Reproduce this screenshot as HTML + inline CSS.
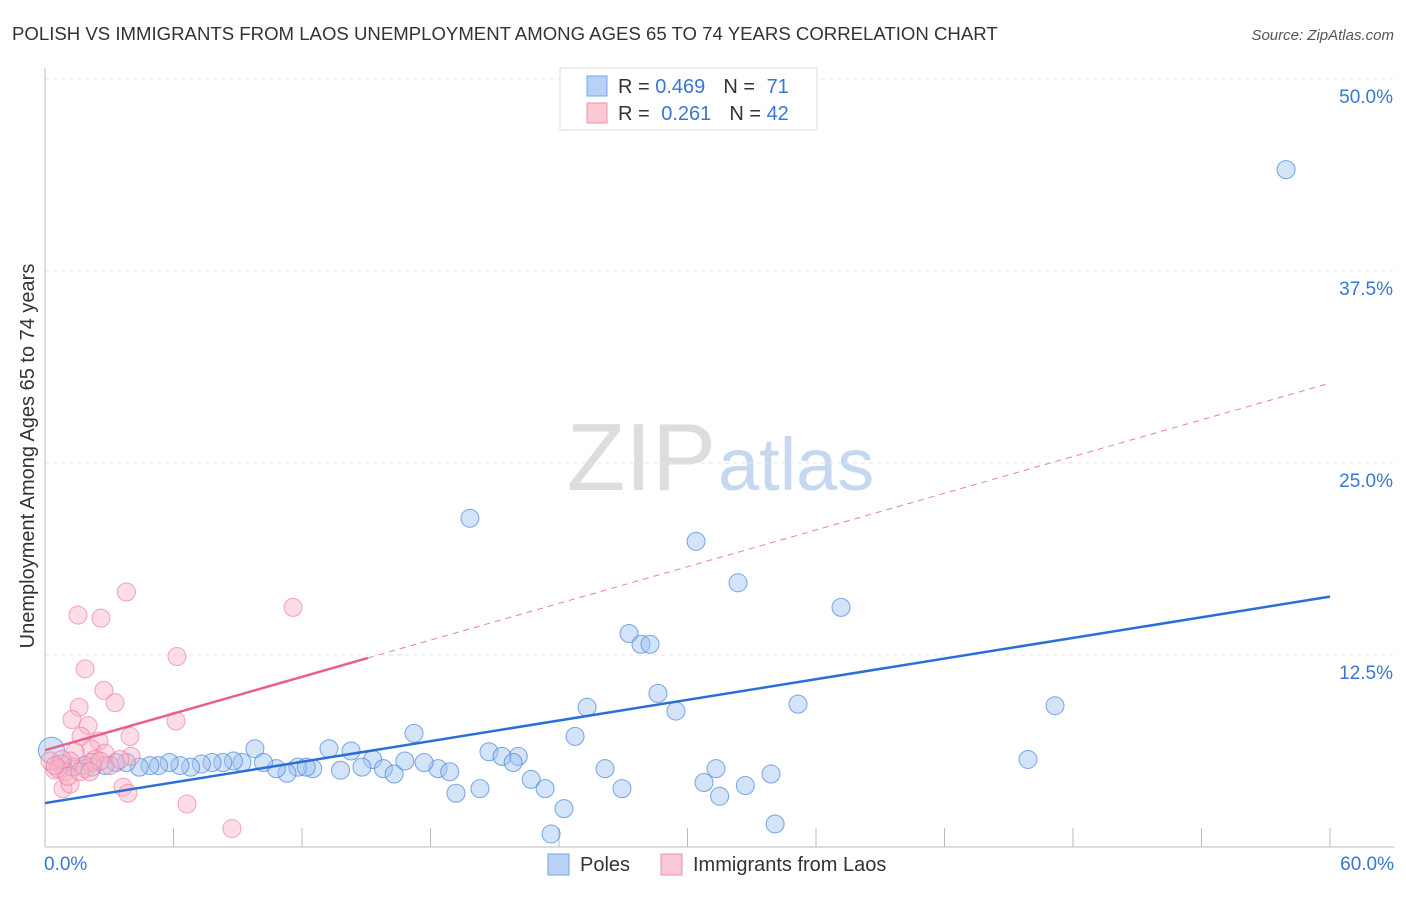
<!DOCTYPE html>
<html><head><meta charset="utf-8"><style>
body{margin:0;background:#fff;font-family:"Liberation Sans",sans-serif;}
svg text{font-family:"Liberation Sans",sans-serif;}
</style></head><body>
<svg id="c" width="1406" height="892">
<text x="12" y="40" font-size="18.6" fill="#333">POLISH VS IMMIGRANTS FROM LAOS UNEMPLOYMENT AMONG AGES 65 TO 74 YEARS CORRELATION CHART</text>
<text x="1394" y="40" font-size="15" fill="#555" font-style="italic" text-anchor="end">Source: ZipAtlas.com</text>
<text x="34" y="456" font-size="20" fill="#333" text-anchor="middle" transform="rotate(-90 34 456)">Unemployment Among Ages 65 to 74 years</text>
<text x="716" y="490" font-size="96" fill="#ddd" text-anchor="end" font-family="Liberation Serif">ZIP</text>
<text x="718" y="490" font-size="74" fill="#c5d8f0">atlas</text>
<g id="grid"></g><g id="marks"></g>
<g>
<rect x="560" y="68" width="257" height="62" fill="#fff" stroke="#ddd"/>
<rect x="587" y="76" width="20" height="20" fill="#b8d1f5" stroke="#7aa6e6"/>
<rect x="587" y="103" width="20" height="20" fill="#fbc8d6" stroke="#f08fab"/>
<text x="618" y="93" font-size="20" fill="#333">R = <tspan fill="#3a76d0">0.469</tspan><tspan dx="18">N = </tspan><tspan fill="#3a76d0" dx="6">71</tspan></text>
<text x="618" y="120" font-size="20" fill="#333">R = <tspan fill="#3a76d0" dx="6">0.261</tspan><tspan dx="18">N = </tspan><tspan fill="#3a76d0">42</tspan></text>
</g>
<rect x="548" y="854" width="21" height="21" fill="#b8d1f5" stroke="#7aa6e6"/>
<text x="580" y="871" font-size="20" fill="#333">Poles</text>
<rect x="661" y="854" width="21" height="21" fill="#fbc8d6" stroke="#f08fab"/>
<text x="693" y="871" font-size="20" fill="#333">Immigrants from Laos</text>
</svg>
<script>
const yTicks=[12.5,25.0,37.5,50.0];
const xTickLabels=["0.0%","60.0%"];
const polesX=[57.95,19.84,30.4,32.36,37.17,27.27,27.83,28.25,28.62,29.46,25.31,35.16,47.16,24.75,17.23,20.73,22.1,21.34,21.86,13.26,14.29,9.8,45.9,26.15,31.33,33.9,18.35,18.9,22.7,30.77,32.7,23.35,20.31,19.19,26.94,31.5,24.23,23.63,34.09,15.3,15.8,16.3,14.8,13.8,12.5,11.8,11.3,10.8,10.2,9.2,8.8,8.3,7.8,7.3,6.8,6.3,5.8,5.3,4.9,4.4,3.8,3.3,2.8,2.2,1.8,1.3,0.8,0.3,16.8,17.7,12.2];
const polesY=[44.1,21.4,19.9,17.2,15.6,13.9,13.2,13.2,10.0,8.85,9.1,9.3,9.2,7.2,7.4,6.2,5.9,5.9,5.5,6.4,6.25,6.4,5.7,5.1,5.1,4.75,5.1,4.9,4.4,4.2,4.0,3.8,3.8,3.5,3.8,3.3,2.5,0.85,1.5,5.7,5.1,4.75,5.2,5.0,5.1,5.2,4.8,5.1,5.5,5.5,5.6,5.5,5.5,5.4,5.2,5.3,5.5,5.3,5.3,5.2,5.5,5.5,5.3,5.2,5.3,5.2,5.4,6.3,5.6,5.5,5.2];
const laosX=[3.8,1.54,2.61,11.58,6.16,1.87,1.59,2.75,3.27,1.26,2.01,6.12,1.68,2.52,3.97,2.15,1.4,2.8,4.02,2.33,1.17,0.7,0.47,0.93,1.87,2.19,3.03,0.23,3.64,3.87,6.63,8.73,0.84,1.17,0.61,1.07,0.79,1.63,3.5,2.57,0.47,2.1];
const laosY=[16.6,15.1,14.9,15.6,12.4,11.6,9.1,10.2,9.4,8.3,7.9,8.2,7.2,6.9,7.2,6.4,6.2,6.1,5.9,5.7,5.6,5.4,5.0,4.9,5.1,5.5,5.3,5.6,3.9,3.5,2.8,1.2,3.8,4.1,5.1,4.6,5.7,4.9,5.7,5.6,5.3,4.9];
const polesTrend=[2.86,16.3];
const laosTrend=[6.3,30.2];
const laosSolidEnd=15.08;
const NS="http://www.w3.org/2000/svg";
const X0=45,X1=1330,Y0=847,PXY=192/12.5;
const sx=v=>X0+(v/60)*(X1-X0), sy=v=>Y0-v*PXY;
function mk(t,a,p){const e=document.createElementNS(NS,t);for(const k in a)e.setAttribute(k,a[k]);p.appendChild(e);return e;}
const grid=document.getElementById('grid'),marks=document.getElementById('marks');
yTicks.forEach(t=>{
 const l=mk('line',{x1:X0,x2:1394,y1:sy(t),y2:sy(t),stroke:'#e6e6e6','stroke-dasharray':'4,4'},grid);
 
 
 const tx=mk('text',{x:1393,y:sy(t)+24,'font-size':19,fill:'#3a76d0','text-anchor':'end'},grid);
 tx.textContent=t.toFixed(1)+'%';
 
 
});
const ax=mk('line',{x1:X0,x2:X0,y1:68,y2:Y0,stroke:'#bbb'},grid);


const bx=mk('line',{x1:X0,x2:1394,y1:Y0,y2:Y0,stroke:'#bbb'},grid);


for(let i=1;i<=10;i++){const l=mk('line',{x1:sx(i*6),x2:sx(i*6),y1:828,y2:Y0,stroke:'#bbb'},grid);
 
 }
[[0,'start',44],[60,'end',1394]].forEach((d,i)=>{const t=mk('text',{x:d[2],y:870,'font-size':19,fill:'#3a76d0','text-anchor':d[1]},grid);t.textContent=xTickLabels[i];
 
 });
polesX.forEach((x,i)=>{const r=(i===polesX.length-4)?13:9;const c=mk('circle',{cx:sx(x),cy:sy(polesY[i]),r:r,fill:'rgba(160,195,240,0.45)',stroke:'rgba(70,130,215,0.7)','stroke-width':1},marks);
 
 });
laosX.forEach((x,i)=>{const c=mk('circle',{cx:sx(x),cy:sy(laosY[i]),r:9,fill:'rgba(248,180,200,0.45)',stroke:'rgba(235,120,155,0.65)','stroke-width':1},marks);
 
 });
const lt=v=>laosTrend[0]+(laosTrend[1]-laosTrend[0])*v/60;
const pd=mk('line',{x1:sx(laosSolidEnd),y1:sy(lt(laosSolidEnd)),x2:sx(60),y2:sy(lt(60)),stroke:'#e8809f','stroke-dasharray':'6,5','stroke-width':1},marks);


const ps=mk('line',{x1:sx(0),y1:sy(lt(0)),x2:sx(laosSolidEnd),y2:sy(lt(laosSolidEnd)),stroke:'#e8608a','stroke-width':2.5},marks);


const bl=mk('line',{x1:sx(0),y1:sy(polesTrend[0]),x2:sx(60),y2:sy(polesTrend[1]),stroke:'#2a6fd6','stroke-width':2.5},marks);


</script>
</body></html>
